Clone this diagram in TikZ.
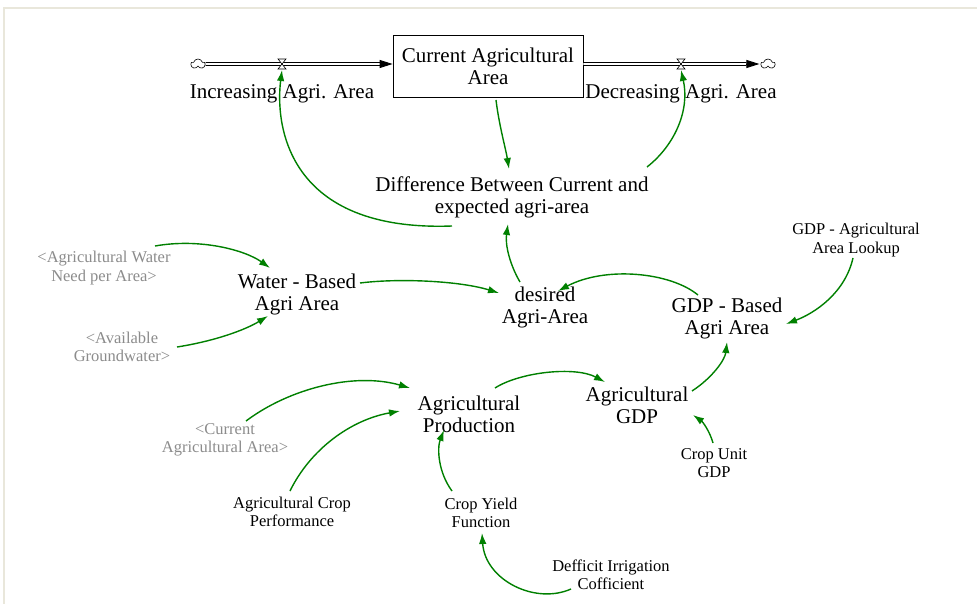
\documentclass[tikz,border=0pt]{standalone}
\usepackage{fontspec}
\setmainfont{Liberation Serif}
\usetikzlibrary{arrows.meta,shapes.symbols}
\definecolor{linkgreen}{RGB}{0,128,0}
\definecolor{shadowgray}{RGB}{140,140,140}
\definecolor{framebeige}{RGB}{233,231,219}

\tikzset{
  var/.style={font=\fontsize{21}{22}\selectfont, align=center, inner sep=0pt},
  smallvar/.style={font=\fontsize{16.5}{18.5}\selectfont, align=center, inner sep=0pt},
  shadowvar/.style={smallvar, text=shadowgray},
  stockbox/.style={draw, line width=0.8pt, minimum width=190pt, minimum height=62pt,
    inner sep=0pt, align=center, font=\fontsize{21}{22}\selectfont},
  link/.style={draw=linkgreen, line width=1.4pt, -{Latex[length=11pt,width=7.5pt]}},
  pipe/.style={double=white, double distance=1.8pt, line width=0.9pt},
  pipetip/.style={-{Triangle[length=13pt,width=8pt]}, line width=0.9pt},
  source/.style={cloud, cloud puffs=5, draw, line width=0.6pt, fill=white,
    minimum width=14pt, minimum height=10pt, inner sep=0pt, aspect=1.4},
  valve/.pic={\draw[fill=white, line width=0.6pt] (-4,-5) -- (4,-5) -- (-4,5) -- (4,5) -- cycle;}
}

\begin{document}
\begin{tikzpicture}[x=1pt, y=-1pt]
  \fill[white] (0,0) rectangle (977,604);
  \useasboundingbox (0,0) rectangle (977,604);
  % window frame
  \draw[framebeige, line width=2pt] (4,604) -- (4,8) -- (977,8);

  % stock and flows
  \node[stockbox] (stock) at (488,66) {Current Agricultural\\Area};
  \node[source] (cl) at (198,64) {};
  \node[source] (cr) at (768,64) {};
  \coordinate (v1) at (282,64);
  \coordinate (v2) at (681,64);
  \coordinate (v1b) at (282,70);
  \coordinate (v2b) at (681,70);

  \draw[pipe] (cl.east) -- ([xshift=-12pt]stock.west |- cl);
  \draw[pipetip] ([xshift=-12pt]stock.west |- cl) -- (stock.west |- cl);
  \draw[pipe] (stock.east |- cr) -- ([xshift=-14pt]cr.west);
  \draw[pipetip] ([xshift=-14pt]cr.west) -- ([xshift=-1pt]cr.west);
  \pic at (v1) {valve};
  \pic at (v2) {valve};

  \node[var] (inc) at (282,94) {Increasing Agri. Area};
  \node[var] (dec) at (681,94) {Decreasing Agri. Area};

  % auxiliaries
  \node[var] (diff) at (512,197) {Difference Between Current and\\expected agri-area};
  \node[var] (desired) at (545,307) {desired\\Agri-Area};
  \node[var] (water) at (297,294) {Water - Based\\Agri Area};
  \node[var] (gdpb) at (727,318) {GDP - Based\\Agri Area};
  \node[var] (aggdp) at (637,405) {Agricultural\\GDP};
  \node[var] (prod) at (469,414) {Agricultural\\Production};

  \node[smallvar] (lookup) at (856,240) {GDP - Agricultural\\Area Lookup};
  \node[smallvar] (cropunit) at (714,463) {Crop Unit\\GDP};
  \node[smallvar] (perf) at (292,512) {Agricultural Crop\\Performance};
  \node[smallvar] (yield) at (481,513) {Crop Yield\\Function};
  \node[smallvar] (deficit) at (611,575) {Defficit Irrigation\\Cofficient};

  \node[shadowvar] (agwater) at (104,268) {<Agricultural Water\\Need per Area>};
  \node[shadowvar] (ground) at (122,347) {<Available\\Groundwater>};
  \node[shadowvar] (curarea) at (225,440) {<Current\\Agricultural Area>};

  % causal links
  \draw[link] ([shift={(8,34)}]stock.center) .. controls (499,125) and (506,150) .. ([shift={(-3,-28)}]diff.center);
  \draw[link] ([shift={(-60,29)}]diff.center) .. controls (287,232) and (275,125) .. (v1b);
  \draw[link] ([shift={(135,-30)}]diff.center) .. controls (675,145) and (690,110) .. (v2b);
  \draw[link] ([shift={(-25,-25)}]desired.center) .. controls (510,265) and (505,245) .. ([shift={(-4,27)}]diff.center);
  \draw[link] ([shift={(63,-11)}]water.center) .. controls (400,278) and (460,281) .. ([shift={(-46,-14)}]desired.center);
  \draw[link] ([shift={(-29,-23)}]gdpb.center) .. controls (670,272) and (605,266) .. ([shift={(13,-16)}]desired.center);
  \draw[link] ([shift={(-3,18)}]lookup.center) .. controls (845,293) and (815,313) .. ([shift={(59,6)}]gdpb.center);
  \draw[link] ([shift={(51,-22)}]agwater.center) .. controls (200,238) and (245,250) .. ([shift={(-27,-26)}]water.center);
  \draw[link] ([shift={(55,0)}]ground.center) .. controls (215,341) and (245,330) .. ([shift={(-29,22)}]water.center);
  \draw[link] ([shift={(26,-26)}]prod.center) .. controls (520,372) and (575,366) .. ([shift={(-32,-23)}]aggdp.center);
  \draw[link] ([shift={(55,-14)}]aggdp.center) .. controls (712,378) and (725,360) .. ([shift={(0,24)}]gdpb.center);
  \draw[link] ([shift={(-1,-20)}]cropunit.center) .. controls (710,432) and (703,422) .. ([shift={(56,10)}]aggdp.center);
  \draw[link] ([shift={(21,-19)}]curarea.center) .. controls (290,388) and (355,372) .. ([shift={(-59,-26)}]prod.center);
  \draw[link] ([shift={(-2,-21)}]perf.center) .. controls (310,450) and (350,420) .. ([shift={(-69,-3)}]prod.center);
  \draw[link] ([shift={(-29,-22)}]yield.center) .. controls (438,472) and (437,448) .. ([shift={(-25,16)}]prod.center);
  \draw[link] ([shift={(-40,14)}]deficit.center) .. controls (535,605) and (485,580) .. ([shift={(1,20)}]yield.center);
\end{tikzpicture}
\end{document}
